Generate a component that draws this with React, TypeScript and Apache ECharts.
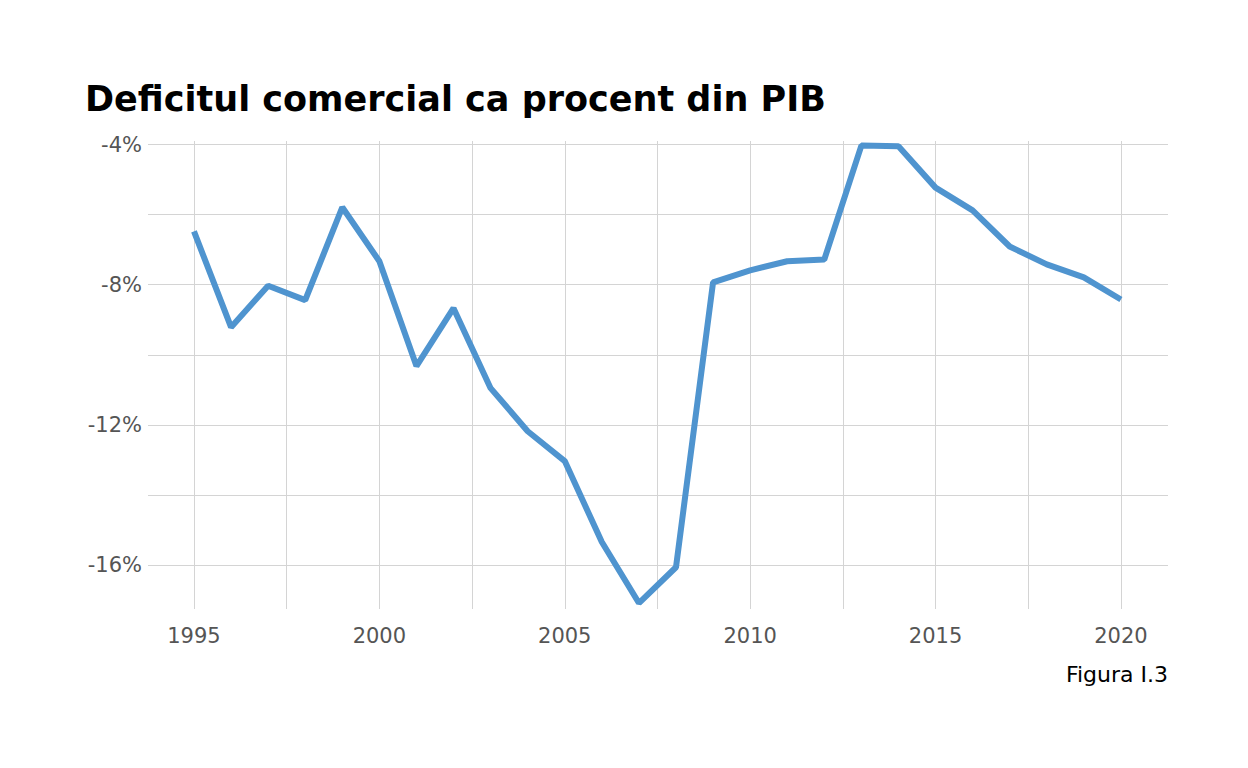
import { useEffect, useRef } from 'react';
import * as echarts from 'echarts';

const years = [1995, 1996, 1997, 1998, 1999, 2000, 2001, 2002, 2003, 2004, 2005, 2006, 2007,
    2008, 2009, 2010, 2011, 2012, 2013, 2014, 2015, 2016, 2017, 2018, 2019, 2020];
const deficit = [-6.48, -9.21, -8.03, -8.44, -5.79, -7.33, -10.32, -8.67, -10.95, -12.18, -13.03,
    -15.34, -17.08, -16.06, -7.93, -7.59, -7.33, -7.28, -4.03, -4.05, -5.23, -5.88, -6.91, -7.42,
    -7.79, -8.42];
const yTicks = [-4, -8, -12, -16];
const yGrid = [-4, -6, -8, -10, -12, -14, -16];
const xTicks = [1995, 2000, 2005, 2010, 2015, 2020];
const xGrid = [1995, 1997.5, 2000, 2002.5, 2005, 2007.5, 2010, 2012.5, 2015, 2017.5, 2020];

export default function App() {
    const chartRef = useRef<HTMLDivElement>(null);

    useEffect(() => {
        if (!chartRef.current) return;
        const chart = echarts.init(chartRef.current, undefined, { renderer: 'svg' });
        const gridStyle = { color: '#d4d4d4', width: 1, type: 'solid' as const };

        chart.setOption({
            animation: false,
            title: {
                text: 'Deficitul comercial ca procent din PIB',
                left: 80,
                top: 76,
                textStyle: { fontSize: 35, fontWeight: 'bold', color: '#000', fontFamily: 'DejaVu Sans' },
            },
            graphic: [{
                type: 'text',
                right: 80,
                top: 663,
                style: { text: 'Figura I.3', fontSize: 22, fill: '#000', fontFamily: 'DejaVu Sans' },
            }],
            grid: { left: 148, right: 80, top: 141, bottom: 159 },
            xAxis: {
                type: 'value',
                min: 1993.76,
                max: 2021.27,
                axisLine: { show: false },
                axisTick: { show: false },
                splitLine: { show: false },
                axisLabel: {
                    customValues: xTicks,
                    fontSize: 21,
                    color: '#555',
                    margin: 16,
                    fontFamily: 'DejaVu Sans',
                    formatter: (v: number) => String(v),
                },
            },
            yAxis: {
                type: 'value',
                min: -17.25,
                max: -3.9,
                axisLine: { show: false },
                axisTick: { show: false },
                splitLine: { show: false },
                axisLabel: {
                    customValues: yTicks,
                    fontSize: 21,
                    color: '#555',
                    margin: 6,
                    fontFamily: 'DejaVu Sans',
                    formatter: (v: number) => `${v}%`,
                },
            },
            series: [{
                type: 'line',
                data: years.map((y, i) => [y, deficit[i]]),
                symbol: 'none',
                lineStyle: { color: '#4f94cf', width: 6 },
                z: 3,
                markLine: {
                    silent: true,
                    symbol: 'none',
                    label: { show: false },
                    lineStyle: gridStyle,
                    data: [
                        ...yGrid.map(v => ({ yAxis: v })),
                        ...xGrid.map(v => ({ xAxis: v })),
                    ],
                    z: 1,
                },
            }],
        });

        return () => chart.dispose();
    }, []);

    return <div ref={chartRef} style={{ position: 'absolute', left: 0, top: 0, width: 1248, height: 768 }} />;
}
